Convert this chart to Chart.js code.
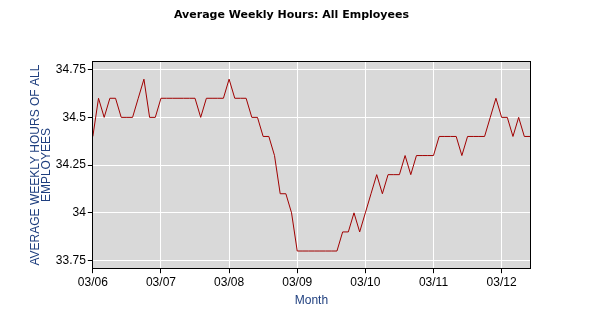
<!DOCTYPE html>
<html>
<head>
<meta charset="utf-8">
<script src="https://cdn.jsdelivr.net/npm/chart.js@4.4.0/dist/chart.umd.min.js"></script>
<style>
html,body{margin:0;padding:0;background:#fff;}
#wrap{width:603px;height:326px;position:relative;}
</style>
</head>
<body>
<div id="wrap"><canvas id="c" width="603" height="326"></canvas></div>
<script>
const chartTitle = 'Average Weekly Hours: All Employees';
const yTitle = ['AVERAGE WEEKLY HOURS OF ALL', 'EMPLOYEES'];
const xTitle = 'Month';
const months = [
 '03/06','04/06','05/06','06/06','07/06','08/06','09/06','10/06','11/06','12/06','01/07','02/07',
 '03/07','04/07','05/07','06/07','07/07','08/07','09/07','10/07','11/07','12/07','01/08','02/08',
 '03/08','04/08','05/08','06/08','07/08','08/08','09/08','10/08','11/08','12/08','01/09','02/09',
 '03/09','04/09','05/09','06/09','07/09','08/09','09/09','10/09','11/09','12/09','01/10','02/10',
 '03/10','04/10','05/10','06/10','07/10','08/10','09/10','10/10','11/10','12/10','01/11','02/11',
 '03/11','04/11','05/11','06/11','07/11','08/11','09/11','10/11','11/11','12/11','01/12','02/12',
 '03/12','04/12','05/12','06/12','07/12','08/12'
];
const hours = [
 34.4,34.6,34.5,34.6,34.6,34.5,34.5,34.5,34.6,34.7,34.5,34.5,
 34.6,34.6,34.6,34.6,34.6,34.6,34.6,34.5,34.6,34.6,34.6,34.6,
 34.7,34.6,34.6,34.6,34.5,34.5,34.4,34.4,34.3,34.1,34.1,34.0,
 33.8,33.8,33.8,33.8,33.8,33.8,33.8,33.8,33.9,33.9,34.0,33.9,
 34.0,34.1,34.2,34.1,34.2,34.2,34.2,34.3,34.2,34.3,34.3,34.3,
 34.3,34.4,34.4,34.4,34.4,34.3,34.4,34.4,34.4,34.4,34.5,34.6,
 34.5,34.5,34.4,34.5,34.4,34.4
];
const xTickLabels = ['03/06','03/07','03/08','03/09','03/10','03/11','03/12'];
const yTicks = [33.75, 34, 34.25, 34.5, 34.75];
const yTickLabels = ['33.75', '34', '34.25', '34.5', '34.75'];
const yMin = 33.71, yMax = 34.79;

const axisBlue = '#1f3f7f';

const plotBox = {
  id: 'plotBox',
  beforeDraw(chart) {
    const a = chart.chartArea, ctx = chart.ctx;
    ctx.save();
    ctx.fillStyle = '#d9d9d9';
    ctx.fillRect(a.left, a.top, a.right - a.left, a.bottom - a.top);
    ctx.restore();
  },
  afterDraw(chart) {
    const a = chart.chartArea, ctx = chart.ctx;
    ctx.save();
    ctx.strokeStyle = '#000';
    ctx.lineWidth = 1;
    ctx.strokeRect(Math.round(a.left) - 0.5, Math.round(a.top) - 0.5, Math.round(a.right - a.left) + 1, Math.round(a.bottom - a.top) + 1);
    ctx.fillStyle = '#000';
    ctx.font = 'bold 11px "DejaVu Sans"';
    ctx.textAlign = 'center';
    ctx.textBaseline = 'middle';
    ctx.fillText(chartTitle, 291.5, 15);
    ctx.restore();
  }
};

new Chart(document.getElementById('c'), {
  type: 'line',
  data: {
    labels: months,
    datasets: [{
      data: hours,
      borderColor: '#a00000',
      borderWidth: 1,
      pointRadius: 0,
      tension: 0,
      fill: false
    }]
  },
  plugins: [plotBox],
  options: {
    responsive: false,
    animation: false,
    devicePixelRatio: 1,
    layout: { padding: { left: 30, right: 73, top: 62, bottom: 18 } },
    plugins: {
      legend: { display: false },
      tooltip: { enabled: false },
      title: { display: false }
    },
    scales: {
      x: {
        type: 'category',
        offset: false,
        border: { display: true, color: '#000' },
        grid: {
          drawOnChartArea: true,
          color: (c) => (c.index % 12 === 0 ? '#ffffff' : 'rgba(0,0,0,0)'),
          tickColor: (c) => (c.index % 12 === 0 ? '#000000' : 'rgba(0,0,0,0)'),
          tickLength: 5,
          lineWidth: 1
        },
        ticks: {
          autoSkip: false,
          maxRotation: 0,
          minRotation: 0,
          color: '#000',
          font: { family: 'Liberation Sans', size: 12 },
          padding: 2,
          callback: function (v, i) { return i % 12 === 0 ? xTickLabels[i / 12] : ''; }
        },
        title: {
          display: true,
          text: xTitle,
          color: axisBlue,
          font: { family: 'Liberation Sans', size: 12 },
          padding: { top: 2, bottom: 0 }
        }
      },
      y: {
        type: 'linear',
        min: yMin,
        max: yMax,
        afterBuildTicks: (s) => { s.ticks = yTicks.map(v => ({ value: v })); },
        border: { display: true, color: '#000' },
        grid: {
          color: '#ffffff',
          tickColor: '#000',
          tickLength: 5,
          lineWidth: 1
        },
        ticks: {
          color: '#000',
          font: { family: 'Liberation Sans', size: 12 },
          padding: 2,
          callback: function (v, i) { return yTickLabels[i]; }
        },
        title: {
          display: true,
          text: yTitle,
          color: axisBlue,
          font: { family: 'Liberation Sans', size: 12, lineHeight: 0.95 },
          padding: { top: 0, bottom: 1 }
        }
      }
    }
  }
});
</script>
</body>
</html>
